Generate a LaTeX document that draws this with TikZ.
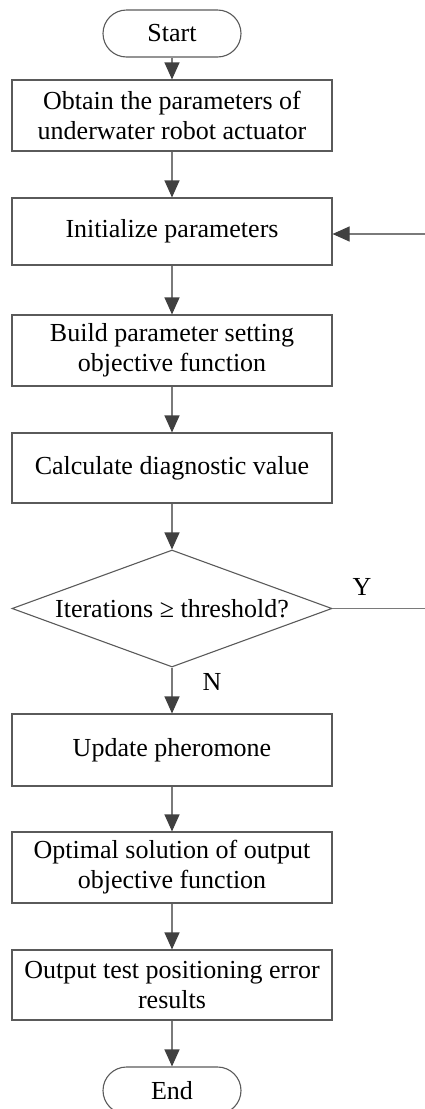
\documentclass[tikz,border=0pt]{standalone}
\usepackage{fontspec}
\setmainfont{Liberation Serif}
\usetikzlibrary{arrows.meta,shapes.geometric}
\definecolor{boxc}{HTML}{5A5A5A}
\definecolor{linec}{HTML}{7A7A7A}
\definecolor{tipc}{HTML}{404040}
\begin{document}
\begin{tikzpicture}[x=1pt,y=-1pt,
  every node/.style={font=\fontsize{26}{30}\selectfont},
  procbox/.style={draw=boxc,line width=1.1pt,minimum width=320pt,align=center,inner sep=0pt},
  termbox/.style={draw=boxc,line width=1.1pt,minimum width=138pt,minimum height=47pt,rounded corners=23.5pt,inner sep=0pt},
  decbox/.style={draw=boxc,line width=1.1pt,diamond,aspect=2.735,minimum width=320pt,minimum height=117pt,inner sep=0pt},
  flow/.style={draw=linec,line width=1.1pt,-{Triangle[width=15pt,length=17pt,color=tipc]}},
  plainline/.style={draw=linec,line width=1.1pt},
  lbl/.style={inner sep=0pt}
]
\useasboundingbox (0,0) rectangle (425,1109);
\node[termbox] (start) at (172,33.5) {Start};
\node[procbox,minimum height=71pt] (obtain) at (172,115.5) {Obtain the parameters of\\underwater robot actuator};
\node[procbox,minimum height=67pt] (init) at (172,231.5) {Initialize parameters};
\node[procbox,minimum height=71pt] (build) at (172,350.5) {Build parameter setting\\objective function};
\node[procbox,minimum height=70pt] (calc) at (172,468) {Calculate diagnostic value};
\node[decbox] (dec) at (172,608.5) {Iterations ≥ threshold?};
\node[procbox,minimum height=72pt] (update) at (172,750) {Update pheromone};
\node[procbox,minimum height=71pt] (optimal) at (172,867.5) {Optimal solution of output\\objective function};
\node[procbox,minimum height=70pt] (output) at (172,985) {Output test positioning error\\results};
\node[termbox] (end) at (172,1090.5) {End};
\coordinate (loopin) at (425,234);
\coordinate (yout) at (425,608.5);
\node[lbl] (ylbl) at (362,587) {Y};
\node[lbl] (nlbl) at (212,682) {N};
\draw[flow] (start) -- (obtain);
\draw[flow] (obtain) -- (init);
\draw[flow] (init) -- (build);
\draw[flow] (build) -- (calc);
\draw[flow] (calc) -- (dec);
\draw[flow] (dec) -- (update);
\draw[flow] (update) -- (optimal);
\draw[flow] (optimal) -- (output);
\draw[flow] (output) -- (end);
\draw[flow] (loopin) -- (init.east |- loopin);
\draw[plainline] (dec.east) -- (yout);
\end{tikzpicture}
\end{document}
